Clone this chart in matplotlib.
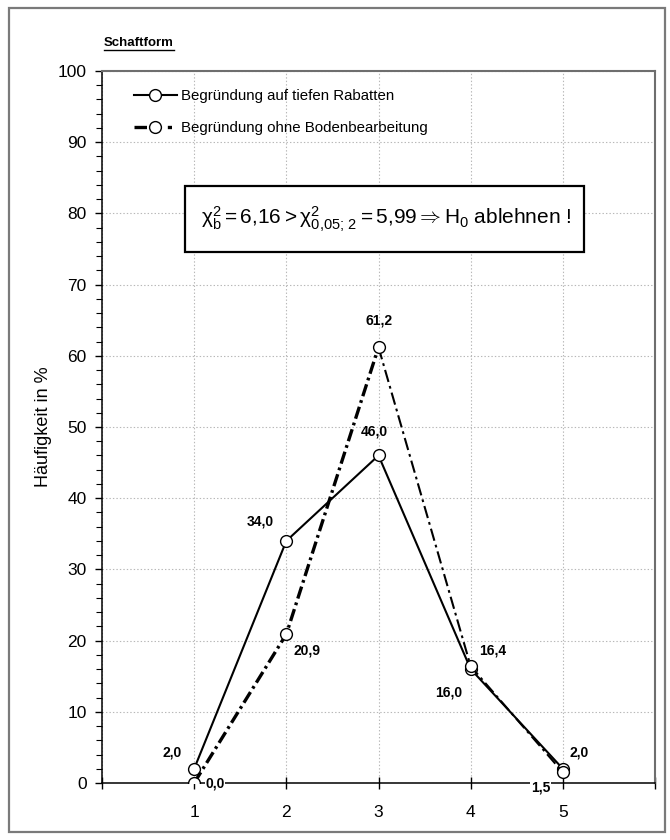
import matplotlib
matplotlib.use("Agg")
import matplotlib.pyplot as plt
from matplotlib import font_manager
from matplotlib.lines import Line2D
from matplotlib.patches import Rectangle
from matplotlib.ticker import MultipleLocator, FixedLocator

# --- data -------------------------------------------------------------
categories = [1, 2, 3, 4, 5]
rabatten = [2.0, 34.0, 46.0, 16.0, 2.0]          # Begründung auf tiefen Rabatten
ohne_boden = [0.0, 20.9, 61.2, 16.4, 1.5]        # Begründung ohne Bodenbearbeitung
series_names = ["Begründung auf tiefen Rabatten",
                "Begründung ohne Bodenbearbeitung"]
y_ticks = [0, 10, 20, 30, 40, 50, 60, 70, 80, 90, 100]
title_text = "Schaftform"
ylabel_text = "Häufigkeit in %"

# label offsets (points) per series and category
off_rabatten = [(-9, 12, "right"), (-9, 14, "right"), (-3, 17, "center"),
                (-6, -17, "right"), (5, 12, "left")]
off_ohne = [(8, 0, "left"), (5, -12, "left"), (0, 19, "center"),
            (6, 11, "left"), (-9, -11, "right")]

# --- fonts --------------------------------------------------------------
names = {f.name for f in font_manager.fontManager.ttflist}
base = "Liberation Sans" if "Liberation Sans" in names else "DejaVu Sans"
narrow = "Liberation Sans Narrow" if "Liberation Sans Narrow" in names else base
plt.rcParams["font.family"] = [base, "DejaVu Sans"]
plt.rcParams["mathtext.fontset"] = "custom"
plt.rcParams["mathtext.rm"] = base
plt.rcParams["mathtext.it"] = base + ":italic"
plt.rcParams["mathtext.bf"] = base + ":bold"
plt.rcParams["lines.scale_dashes"] = False

fig = plt.figure(figsize=(6.7, 8.4), dpi=100)
W, H = 670, 840
ax = fig.add_axes([102 / W, 1 - 783 / H, (655 - 102) / W, (783 - 71) / H])

# figure frame
fig.patches.append(Rectangle((9 / W, 8 / H), (665 - 9) / W, (832 - 8) / H,
                             transform=fig.transFigure, fill=False,
                             edgecolor="#7a7a7a", linewidth=1.6))

ax.set_xlim(0, 6)
ax.set_ylim(0, 100)

# grid
ax.xaxis.set_major_locator(FixedLocator([0, 1, 2, 3, 4, 5, 6]))
ax.set_xticklabels(["", "1", "2", "3", "4", "5", ""])
ax.yaxis.set_major_locator(FixedLocator(y_ticks))
ax.yaxis.set_minor_locator(MultipleLocator(2))
ax.grid(True, which="major", linestyle=(0, (1, 1.5)), color="#b8b8b8",
        linewidth=0.8)
ax.set_axisbelow(True)

for s in ("top", "right"):
    ax.spines[s].set_color("#6e6e6e")
    ax.spines[s].set_linewidth(1.5)
for s in ("left", "bottom"):
    ax.spines[s].set_color("black")
    ax.spines[s].set_linewidth(1.1)

ax.tick_params(axis="y", which="major", direction="out", length=5, width=1,
               labelsize=12.5, pad=6)
ax.tick_params(axis="y", which="minor", direction="out", length=4, width=0.8)
ax.tick_params(axis="x", which="major", direction="inout", length=8, width=1,
               labelsize=12.5, pad=12)
for lbl in ax.get_xticklabels() + ax.get_yticklabels():
    lbl.set_fontfamily(narrow)

# lines
marker_kw = dict(marker="o", markersize=8.5, markerfacecolor="white",
                 markeredgecolor="black", markeredgewidth=1.0)
ax.plot(categories, rabatten, color="black", linewidth=1.5, zorder=3,
        **marker_kw)
dash = (0, (9, 3, 2, 3))
ax.plot(categories[:3], ohne_boden[:3], color="black", linewidth=2.4,
        linestyle=dash, zorder=4)
ax.plot(categories[2:], ohne_boden[2:], color="black", linewidth=1.5,
        linestyle=dash, zorder=4)
ax.plot(categories, ohne_boden, linestyle="none", zorder=5, **marker_kw)

# value labels
def put_labels(vals, offs):
    for x, v, (dx, dy, ha) in zip(categories, vals, offs):
        bg = None
        if v < 1.8 or (x == 5 and dy < 0):
            bg = dict(facecolor="white", edgecolor="none", pad=0.5)
        ax.annotate(f"{v:.1f}".replace(".", ","), (x, v),
                    xytext=(dx, dy), textcoords="offset points",
                    ha=ha, va="center", fontsize=10, fontweight="bold",
                    family=narrow, zorder=6, bbox=bg, annotation_clip=False)

put_labels(rabatten, off_rabatten)
put_labels(ohne_boden, off_ohne)

# legend
h1 = Line2D([], [], color="black", linewidth=1.5, **marker_kw)
h2 = Line2D([], [], color="black", linewidth=2.4, linestyle=(0, (9, 15, 3, 30)),
            **marker_kw)
leg = ax.legend([h1, h2], series_names, loc="upper left",
                bbox_to_anchor=(0.033, 0.993), frameon=False,
                handlelength=2.9, handletextpad=0.25, labelspacing=1.2,
                prop=dict(family=narrow, size=10.8))

# test statistic box
ax.add_patch(Rectangle((0.9, 74.6), 4.33, 9.2, facecolor="white",
                       edgecolor="black", linewidth=1.6, zorder=7))
ax.text(3.08, 79.1,
        r"$\mathrm{\chi}_{\mathrm{b}}^{2} = 6{,}16 > \mathrm{\chi}^{2}_{0{,}05;\,2}"
        r" = 5{,}99 \Rightarrow \mathrm{H}_{0}$ ablehnen !",
        ha="center", va="center", fontsize=15, family=narrow, zorder=8)

ax.set_ylabel(ylabel_text, fontsize=13, family=narrow, va="center")
ax.yaxis.set_label_coords(-0.105, 0.5)

# underlined title
t = fig.text(104 / W, 1 - 43 / H, title_text, fontsize=9.5,
             fontweight="bold", ha="left", va="center", family=narrow)
fig.canvas.draw()
bb = t.get_window_extent()
fig.add_artist(Line2D([bb.x0 / W, bb.x1 / W], [(bb.y0 - 1.0) / H] * 2,
                      transform=fig.transFigure, color="black", linewidth=1.0))

fig.savefig("out.png", dpi=100)
